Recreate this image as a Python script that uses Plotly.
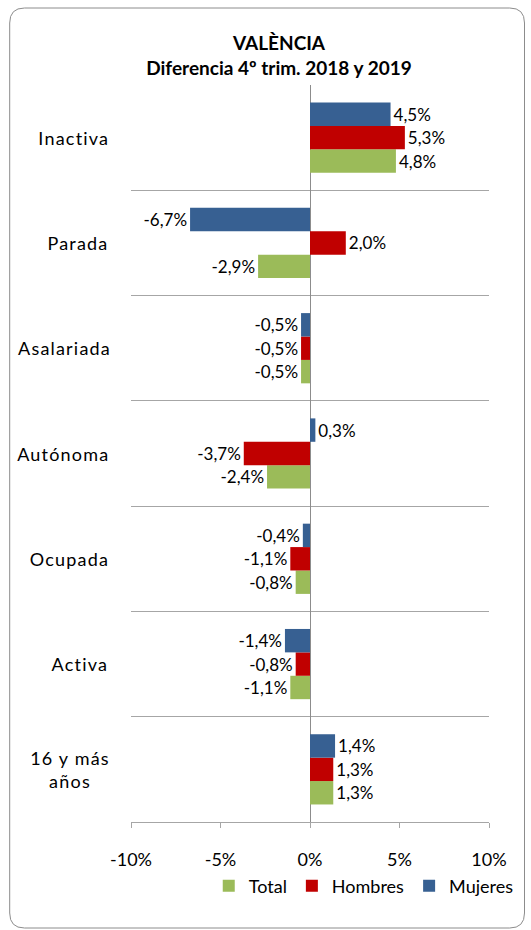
import plotly.graph_objects as go

categories = ["16 y más<br>años", "Activa", "Ocupada", "Autónoma", "Asalariada", "Parada", "Inactiva"]
total = [1.3, -1.1, -0.8, -2.4, -0.5, -2.9, 4.8]
hombres = [1.3, -0.8, -1.1, -3.7, -0.5, 2.0, 5.3]
mujeres = [1.4, -1.4, -0.4, 0.3, -0.5, -6.7, 4.5]
tick_vals = [-10, -5, 0, 5, 10]
tick_text = ["-10%", "-5%", "0%", "5%", "10%"]

series = [("Total", total, "#9BBB59"), ("Hombres", hombres, "#C00000"), ("Mujeres", mujeres, "#376092")]

W, H = 531, 930
L, R, T, B = 131, 37, 85, 108
PW, PH = W - L - R, H - T - B

def X(p):
    return (p - L) / PW

def Y(p):
    return (H - B - p) / PH

FONT = "Lato, 'Open Sans', sans-serif"

fig = go.Figure()
for name, vals, color in series:
    fig.add_trace(go.Bar(
        y=categories, x=vals, name=name, orientation="h",
        marker=dict(color=color, line=dict(width=0)),
        texttemplate="%{x:.1f}%", textposition="outside",
        textfont=dict(family=FONT, size=17, color="#000000"),
        cliponaxis=False,
    ))

# rounded chart border
x0, x1, y0, y1, r = 8, 530, 8, 928, 15
path = (f"M {X(x0+r)},{Y(y0)} L {X(x1-r)},{Y(y0)} Q {X(x1)},{Y(y0)} {X(x1)},{Y(y0+r)} "
        f"L {X(x1)},{Y(y1-r)} Q {X(x1)},{Y(y1)} {X(x1-r)},{Y(y1)} "
        f"L {X(x0+r)},{Y(y1)} Q {X(x0)},{Y(y1)} {X(x0)},{Y(y1-r)} "
        f"L {X(x0)},{Y(y0+r)} Q {X(x0)},{Y(y0)} {X(x0+r)},{Y(y0)} Z")

annotations = [dict(text=c, x=0, xref="paper", y=c, yref="y", xanchor="right", yanchor="middle",
                    xshift=-24, align="center", showarrow=False,
                    font=dict(family=FONT, size=18, color="#000000")) for c in categories]

fig.update_layout(
    width=W, height=H,
    margin=dict(l=L, r=R, t=T, b=B),
    paper_bgcolor="white", plot_bgcolor="white",
    barmode="group", bargap=0.333, bargroupgap=0,
    separators=",.",
    title=dict(text="<b>VALÈNCIA<br>Diferencia 4º trim. 2018 y 2019</b>",
               x=279 / W, xref="container", xanchor="center",
               y=1 - 50 / H, yref="container", yanchor="middle",
               font=dict(family=FONT, size=19, color="#000000")),
    xaxis=dict(range=[-10, 10], tickvals=tick_vals, ticktext=tick_text,
               showgrid=False, zeroline=True, zerolinecolor="#8C8C8C", zerolinewidth=1,
               showline=True, linecolor="#A6A6A6", linewidth=1,
               ticks="outside", ticklen=5, tickcolor="#A6A6A6",
               ticklabelstandoff=16,
               tickfont=dict(family=FONT, size=18, color="#000000"), fixedrange=True),
    yaxis=dict(categoryorder="array", categoryarray=categories,
               tickson="boundaries", showgrid=True, gridcolor="#A6A6A6", gridwidth=1,
               showticklabels=False, ticks="", showline=False, zeroline=False, fixedrange=True),
    legend=dict(orientation="h", x=X(367), xanchor="center", y=Y(886), yanchor="middle",
                font=dict(family=FONT, size=18, color="#000000"), traceorder="normal",
                itemwidth=30),
    shapes=[dict(type="path", path=path, xref="paper", yref="paper",
                 line=dict(color="#8C8C8C", width=1), layer="below")],
    annotations=annotations,
    showlegend=True,
)

post = """
document.documentElement.style.margin='0';
document.documentElement.style.padding='0';
document.documentElement.style.overflow='hidden';
document.body.style.margin='0';
document.body.style.padding='0';
document.body.style.overflow='hidden';
document.querySelectorAll('.annotation-text').forEach(function(t){t.style.letterSpacing='1.2px';});
"""
fig.write_html("out.html", post_script=post, config={"displayModeBar": False})
